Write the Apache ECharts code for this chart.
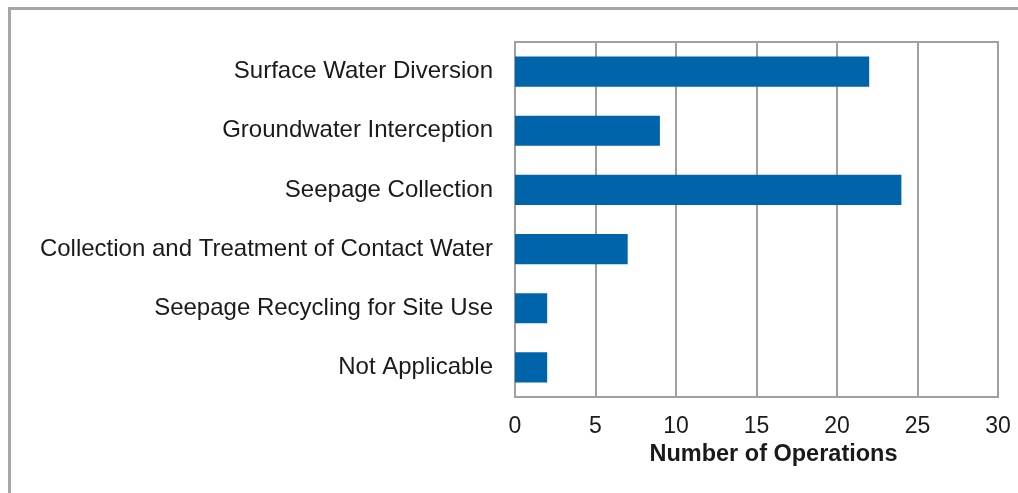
<!DOCTYPE html>
<html>
<head>
<meta charset="utf-8">
<script src="https://cdn.jsdelivr.net/npm/echarts@6/dist/echarts.min.js"></script>
<style>
  html, body { margin: 0; padding: 0; background: #fff; }
  #chart { width: 1018px; height: 493px; }
</style>
</head>
<body>
<div id="chart"></div>
<script>
// categories top to bottom
const categories = [
  'Surface Water Diversion',
  'Groundwater Interception',
  'Seepage Collection',
  'Collection and Treatment of Contact Water',
  'Seepage Recycling for Site Use',
  'Not Applicable'
]
const operations = [22, 9, 24, 7, 2, 2]
const xTicks = [0, 5, 10, 15, 20, 25, 30]

const chart = echarts.init(document.getElementById('chart'))
const gridColor = '#a0a0a0'
const textColor = '#1a1a1a'

chart.setOption({
  animation: false,
  graphic: [{
    type: 'rect',
    left: 7, top: 6,
    shape: { width: 1100, height: 600 },
    style: { fill: 'none', stroke: '#a6a6a6', lineWidth: 3 },
    silent: true
  }],
  grid: {
    left: 515, top: 42, right: 20, bottom: 96,
    show: true, borderColor: gridColor, borderWidth: 2
  },
  xAxis: {
    type: 'value',
    min: xTicks[0],
    max: xTicks[xTicks.length - 1],
    interval: 5,
    name: 'Number of Operations',
    nameLocation: 'middle',
    nameGap: 46,
    nameTextStyle: {
      fontFamily: 'Liberation Sans', fontSize: 23.5, fontWeight: 'bold', color: textColor,
      padding: [0, 0, 0, 34]
    },
    axisLine: { show: true, lineStyle: { color: gridColor, width: 2 } },
    axisTick: { show: false },
    axisLabel: { fontFamily: 'Liberation Sans', fontSize: 23, color: textColor, margin: 18 },
    splitLine: { show: true, lineStyle: { color: gridColor, width: 2 } }
  },
  yAxis: {
    type: 'category',
    data: categories,
    inverse: true,
    axisLine: { show: true, lineStyle: { color: gridColor, width: 2 } },
    axisTick: { show: false },
    axisLabel: { fontFamily: 'Liberation Sans', fontSize: 24, color: textColor, margin: 22 }
  },
  series: [{
    type: 'bar',
    data: operations,
    barWidth: '51%',
    itemStyle: { color: '#0064aa' }
  }]
})
</script>
</body>
</html>
